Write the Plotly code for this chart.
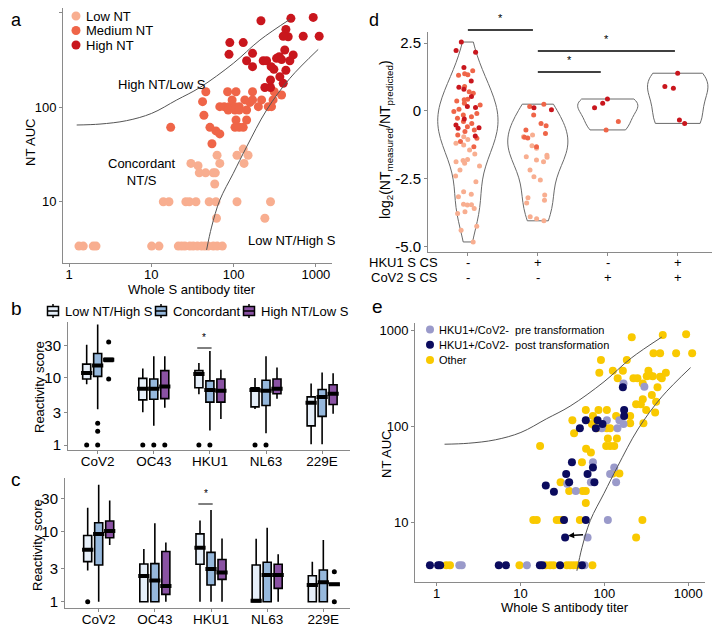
import numpy as np
import plotly.graph_objects as go

# The page body has an 8px default margin, so the figure is sized to fit the 720x628 window
OFF = 8
W, H = 720 - OFF, 628 - OFF
FONT = "Liberation Sans, Arial, sans-serif"
GREY = "#8a8a8a"


def fx(p):
    return (p - OFF) / W


def fy(p):
    return 1 - (p - OFF) / H


# ---------------- panel a : NT AUC vs whole S titer ----------------
a_low_x = [1.32, 1.49, 1.97, 2.13, 10.1, 12.4, 21.3, 23.4, 25.6, 29.4, 32.3, 36.3, 40.9, 44.9, 49.3, 56.7, 63.2, 73.0,
           62, 240, 14, 16.4, 26.3, 29, 34.9, 50.5, 61, 110, 281, 59, 38.3, 45.7, 56.5, 60, 37, 30.3, 68, 134,
           63, 110, 150, 131]
a_low_y = [3.4, 3.4, 3.4, 3.4, 3.4, 3.4, 3.4, 3.4, 3.4, 3.4, 3.4, 3.4, 3.4, 3.4, 3.4, 3.4, 3.4, 3.4,
           6.7, 6.7, 10, 10, 10, 10, 10, 10, 10, 10, 10, 15.4, 20.2, 20.2, 20.2, 20.2, 24, 25.4, 25.4, 25.4,
           31, 31, 31, 36]
a_med_x = [17.2, 42, 43.6, 46, 51.6, 54.6, 61, 68, 84.6, 107, 170, 312, 68, 77, 88.5, 96, 104, 117,
           86, 104, 117, 144, 137, 158, 200, 170, 219, 264, 302, 383, 289, 107, 104, 117, 131, 144]
a_med_y = [61, 114, 82, 145, 61, 41, 56, 52, 145, 145, 145, 145, 101, 101, 101, 119, 101, 101,
           93, 93, 93, 93, 119, 112, 101, 119, 119, 101, 119, 134, 101, 73, 61, 61, 61, 73]
a_high_x = [90, 88, 131, 170, 144, 170, 215, 229, 252, 240, 281, 281, 286, 309, 333, 359, 383, 365,
            401, 432, 461, 401, 497, 419, 432, 483, 530, 702, 929, 1097]
a_high_y = [479, 360, 479, 369, 308, 267, 816, 308, 308, 161, 161, 193, 267, 250, 327, 340, 317, 209,
            178, 661, 553, 560, 864, 400, 245, 308, 355, 560, 885, 560]
a_legend_labels = ["Low NT", "Medium NT", "High NT"]

# boundary curves
curve_hi_x = [1.24, 2.38, 5.0, 10.1, 20.3, 39, 99, 209, 483]
curve_hi_y = [64.6, 66.1, 71.8, 85.7, 118.6, 161, 289, 510, 843]
curve_lo_x = [47, 54, 68, 99, 144, 252, 483, 1067]
curve_lo_y = [3.1, 5.4, 10.4, 19.9, 38, 93, 201, 406]

# ---------------- panel e ----------------
e_other_x = [212, 497, 944, 385, 462, 717, 1114, 91, 185, 87, 166, 126, 144, 222, 248, 335, 350, 378, 320, 462,
             541, 484, 287, 430, 368, 287, 414, 239, 272, 315, 403, 60, 85, 107, 41.5, 73, 71, 81, 107, 117,
             138, 203, 203, 292, 43.5, 110, 141, 17.1, 60.5, 69, 105, 117, 131, 54,
             126, 151, 30, 38, 55, 60, 60, 14.2, 15.6, 27, 29.6, 32, 51, 284, 239,
             1.3, 1.44, 9.7, 20, 22.5, 24.7, 35.6, 39, 42.7, 46.9, 72]
e_other_y = [839, 887, 902, 571, 571, 571, 571, 487, 487, 359, 377, 377, 314, 314, 314, 377, 335, 330, 330, 326,
             359, 314, 278, 253, 210, 190, 179, 169, 169, 147, 138, 147, 147, 147, 115, 127, 105, 95, 95, 95,
             127, 127, 107, 107, 84, 74, 74, 62, 58, 53, 62, 62, 62, 42,
             32, 32, 26, 21, 21, 21, 15.8, 10.5, 10.5, 10.5, 10.5, 10.5, 10.5, 10.5, 6.9,
             3.54, 3.54, 3.54, 3.54, 3.54, 3.54, 3.54, 3.54, 3.54, 3.54, 3.54]
e_post_x = [166, 172, 172, 60, 83, 51, 79, 95, 41, 73, 35, 63, 38, 76, 20, 25, 33, 60, 34,
            0.83, 1.04, 1.1, 5.5, 6.7, 17, 18.2, 29.6, 54]
e_post_y = [253, 147, 127, 115, 115, 95, 95, 105, 42, 37, 31.6, 31.6, 26, 26, 24, 20.7, 10.5, 10.5, 6.9,
            3.54, 3.54, 3.54, 3.54, 3.54, 3.54, 3.54, 3.54, 3.54]
e_pre_x = [169, 300, 107, 151, 169, 93, 143, 73, 131, 117, 69, 36, 138, 45.6, 110, 63,
           1.86, 1.99, 11.9, 58]
e_pre_y = [278, 257, 115, 115, 105, 95, 95, 42, 37, 31.6, 26, 25, 26, 21, 10.5, 6.9,
           3.54, 3.54, 3.54, 3.54]
e_legend_labels = ["HKU1+/CoV2-  pre transformation", "HKU1+/CoV2-  post transformation", "Other"]
e_arrow_from = (58, 7.4)
e_arrow_to = (37, 7.2)

# ---------------- panel d : violins ----------------
d_groups = [1, 2, 3, 4]
d_hku1_signs = ["-", "+", "-", "+"]
d_cov2_signs = ["-", "-", "+", "+"]
d_g1_high = [2.54, 2.23, 2.16, 1.60, 1.10, 0.87, 0.80, 0.53, 0.16, 0.13, -0.30, -0.52, -0.62, -0.64, -0.92]
d_g1_med = [1.48, 1.37, 1.33, 1.32, 0.90, 0.71, 0.65, 0.43, 0.41, 0.37, 0.28, 0.22, 0.06, -0.02, -0.09,
            -0.15, -0.21, -0.27, -0.39, -0.46, -0.58, -0.70, -0.76, -0.89, -1.01, -1.13, -1.32]
d_g1_low = [-0.95, -1.05, -1.19, -1.26, -1.44, -1.59, -1.79, -1.83, -1.87, -1.93, -2.03, -2.18, -2.40,
            -2.61, -2.98, -3.07, -3.16, -3.44, -3.46, -3.47, -3.60, -3.72, -3.78, -4.25, -4.40, -4.83]
d_g2_high = [0.12, 0.04]
d_g2_med = [0.25, 0.16, -0.15, -0.46, -0.55, -0.70, -0.83, -0.97, -1.00, -1.32]
d_g2_low = [-0.89, -0.95, -1.28, -1.38, -1.63, -1.69, -1.71, -1.81, -1.87, -2.18, -2.43, -2.55, -3.10,
            -3.20, -3.29, -3.39, -3.90, -3.97, -4.05]
d_g3_high = [0.44, 0.28, 0.12]
d_g3_med = [-0.39, -0.70]
d_g4_high = [1.39, 0.90, 0.84, -0.33, -0.46]
d_yticks = [2.5, 0, -2.5, -5.0]
d_yticktext = ["2.5", "0", "-2.5", "-5.0"]

# ---------------- panels b, c : box plots ----------------
box_cats = ["CoV2", "OC43", "HKU1", "NL63", "229E"]
box_groups = ["Low NT/High S", "Concordant", "High NT/Low S"]

b_q1 = [[9.6, 4.7, 7.1, 3.7, 1.93], [10.5, 4.8, 4.35, 3.87, 2.67], [17.5, 4.9, 4.35, 5.8, 4.0]]
b_med = [[11.8, 6.9, 11.4, 6.6, 4.25], [15.2, 6.9, 6.6, 6.4, 5.2], [18.5, 7.4, 6.4, 6.9, 5.8]]
b_q3 = [[16, 9.8, 12.8, 7.1, 5.2], [23, 9.6, 9.0, 9.2, 6.7], [19.5, 12.8, 9.6, 9.6, 7.9]]
b_lo = [[8.0, 3.07, 5.7, 3.45, 1.03], [3.4, 1.93, 1.64, 1.5, 1.03], [17.5, 3.6, 2.44, 4.9, 2.93]]
b_hi = [[31, 13.8, 16.6, 9.9, 8.2], [62, 21, 25, 21, 12], [19.5, 21, 13.2, 14.3, 11.7]]
b_out = [[[1], [1], [1], [1], []], [[2.1, 1.6, 1], [1], [1], [1], []], [[34, 9.6], [1], [], [], []]]

c_q1 = [[3.73, 1, 3.42, 1, 1], [3.34, 1, 1.73, 1, 1], [8.2, 1.27, 2.08, 1.55, 1.72]]
c_med = [[5.5, 2.33, 5.9, 1.03, 1.73], [9.3, 2.0, 2.93, 2.4, 1.89], [10.2, 1.67, 2.62, 2.4, 1.77]]
c_q3 = [[8.8, 3.45, 9.3, 3.34, 2.35], [13.4, 3.5, 5.07, 3.65, 2.83], [14.2, 5.2, 4.0, 3.42, 1.82]]
c_lo = [[2.8, 1, 1, 1, 1], [1, 1, 1, 1, 1], [6.45, 1, 1, 1, 1.72]]
c_hi = [[22, 5.65, 14.4, 7.9, 3.73], [47, 13.2, 20.4, 11.4, 7.6], [28, 7.0, 8.0, 4.75, 1.82]]
c_out = [[[1], [], [], [], []], [[], [], [], [], []], [[], [], [], [], [2.68, 1]]]

# ---------------- styles ----------------
C_LOW, C_MED, C_HIGH = "#F8AE90", "#EF6548", "#C9161D"
C_PRE, C_POST, C_OTHER = "#9A9ACA", "#0B0B5E", "#F9C900"
BOX_FILL = ["#E6EFF9", "#96B8DC", "#8A52A3"]
BOX_OFF = [-0.196, 0.0, 0.196]
BOX_W = 0.143

fig = go.Figure()

# ---- panel a traces ----
a_sets = [(a_low_x, a_low_y, C_LOW), (a_med_x, a_med_y, C_MED), (a_high_x, a_high_y, C_HIGH)]
for (xs, ys, col), nm in zip(a_sets, a_legend_labels):
    fig.add_trace(go.Scatter(x=xs, y=ys, mode="markers", name=nm, marker=dict(size=9, color=col),
                             xaxis="x", yaxis="y", showlegend=False))
for cx, cy in [(curve_hi_x, curve_hi_y), (curve_lo_x, curve_lo_y)]:
    fig.add_trace(go.Scatter(x=cx, y=cy, mode="lines", line=dict(color="#555555", width=1, shape="spline"),
                             showlegend=False, xaxis="x", yaxis="y", hoverinfo="skip"))

# ---- panel e traces ----
e_sets = [(e_pre_x, e_pre_y, C_PRE), (e_post_x, e_post_y, C_POST), (e_other_x, e_other_y, C_OTHER)]
for idx in (2, 0, 1):
    xs, ys, col = e_sets[idx]
    fig.add_trace(go.Scatter(x=xs, y=ys, mode="markers", name=e_legend_labels[idx],
                             marker=dict(size=8, color=col), xaxis="x5", yaxis="y5", showlegend=False))
for cx, cy in [(curve_hi_x, curve_hi_y), (curve_lo_x, curve_lo_y)]:
    fig.add_trace(go.Scatter(x=cx, y=cy, mode="lines", line=dict(color="#555555", width=1, shape="spline"),
                             showlegend=False, xaxis="x5", yaxis="y5", hoverinfo="skip"))

# ---- panel d traces ----
d_sets = {
    "high": ([d_g1_high, d_g2_high, d_g3_high, d_g4_high], C_HIGH),
    "med": ([d_g1_med, d_g2_med, d_g3_med, []], C_MED),
    "low": ([d_g1_low, d_g2_low, [], []], C_LOW),
}
for g in range(4):
    vals = []
    for key in ("high", "med", "low"):
        vals += d_sets[key][0][g]
    fig.add_trace(go.Violin(x=[d_groups[g]] * len(vals), y=vals, xaxis="x2", yaxis="y2", points=False,
                            spanmode="hard", scalemode="width", scalegroup="g%d" % g, width=0.86,
                            line=dict(color="#6a6a6a", width=1), fillcolor="rgba(0,0,0,0)",
                            showlegend=False, hoverinfo="skip"))
for key in ("low", "med", "high"):
    lists, col = d_sets[key]
    px_, py_ = [], []
    for g in range(4):
        px_ += [d_groups[g]] * len(lists[g])
        py_ += lists[g]
    fig.add_trace(go.Violin(x=px_, y=py_, xaxis="x2", yaxis="y2", points="all", pointpos=0, jitter=0.55,
                            spanmode="hard", scalemode="width", width=0.8,
                            marker=dict(size=5, color=col), line=dict(width=0, color="rgba(0,0,0,0)"),
                            fillcolor="rgba(0,0,0,0)", showlegend=False))


# ---- panels b, c traces ----
def add_boxes(q1, med, q3, lo, hi, outs, xa, ya):
    for gi in range(3):
        xs = [i + BOX_OFF[gi] for i in range(len(box_cats))]
        fig.add_trace(go.Box(x=xs, q1=q1[gi], median=med[gi], q3=q3[gi], lowerfence=lo[gi], upperfence=hi[gi],
                             width=BOX_W, whiskerwidth=0, fillcolor=BOX_FILL[gi], name=box_groups[gi],
                             line=dict(color="black", width=1.6), boxpoints=False,
                             xaxis=xa, yaxis=ya, showlegend=False, hoverinfo="skip"))
        fig.add_trace(go.Scatter(x=xs, y=med[gi], mode="markers", xaxis=xa, yaxis=ya, showlegend=False,
                                 marker=dict(symbol="line-ew", size=8, color="black",
                                             line=dict(width=4, color="black")), hoverinfo="skip"))
        ox, oy = [], []
        for i in range(len(box_cats)):
            ox += [i + BOX_OFF[gi]] * len(outs[gi][i])
            oy += outs[gi][i]
        fig.add_trace(go.Scatter(x=ox, y=oy, mode="markers", xaxis=xa, yaxis=ya, showlegend=False,
                                 marker=dict(size=5, color="black")))


add_boxes(b_q1, b_med, b_q3, b_lo, b_hi, b_out, "x3", "y3")
add_boxes(c_q1, c_med, c_q3, c_lo, c_hi, c_out, "x4", "y4")

# ---------------- axes ----------------
base = dict(showline=True, linecolor=GREY, linewidth=1, ticks="outside", ticklen=3, tickcolor=GREY,
            showgrid=False, zeroline=False, tickfont=dict(size=13, color="black", family=FONT))
xbase = dict(base, ticklabelstandoff=-4)

layout_axes = dict(
    xaxis=dict(xbase, domain=[fx(63), fx(332)], type="log", range=[-0.073, 3.196],
               tickvals=[1, 10, 100, 1000], ticktext=["1", "10", "100", "1000"], anchor="y"),
    yaxis=dict(base, domain=[fy(263), fy(8)], type="log", range=[0.353, 3.046],
               tickvals=[10, 100, 1000], ticktext=["10", "100", "1000"], anchor="x"),
    xaxis2=dict(base, domain=[fx(428), fx(712)], range=[0.43, 4.49], tickvals=d_groups,
                showticklabels=False, anchor="y2"),
    yaxis2=dict(base, domain=[fy(252), fy(32)], range=[-5.2, 2.91], tickvals=d_yticks,
                ticktext=d_yticktext, tickfont=dict(size=15, color="black", family=FONT), anchor="x2"),
    xaxis3=dict(xbase, domain=[fx(68), fx(350)], range=[-0.529, 4.497], tickvals=list(range(5)),
                ticktext=box_cats, tickfont=dict(size=13.5, color="black", family=FONT), anchor="y3"),
    yaxis3=dict(base, domain=[fy(450), fy(321.7)], type="log", range=[-0.074, 1.835],
                tickvals=[1, 3, 10, 30], ticktext=["1", "3", "10", "30"],
                tickfont=dict(size=15, color="black", family=FONT), anchor="x3"),
    xaxis4=dict(xbase, domain=[fx(65), fx(350)], range=[-0.600, 4.475], tickvals=list(range(5)),
                ticktext=box_cats, tickfont=dict(size=13.5, color="black", family=FONT), anchor="y4"),
    yaxis4=dict(base, domain=[fy(607.7), fy(478)], type="log", range=[-0.086, 1.767],
                tickvals=[1, 3, 10, 30], ticktext=["1", "3", "10", "30"],
                tickfont=dict(size=15, color="black", family=FONT), anchor="x4"),
    xaxis5=dict(xbase, domain=[fx(415), fx(705)], type="log", range=[-0.259, 3.2],
                tickvals=[1, 10, 100, 1000], ticktext=["1", "10", "100", "1000"], anchor="y5"),
    yaxis5=dict(base, domain=[fy(582), fy(323)], type="log", range=[0.375, 3.073],
                tickvals=[10, 100, 1000], ticktext=["10", "100", "1000"], anchor="x5"),
)

# ---------------- annotations ----------------
ann = []
shapes = []


def txt(x, y, s, size=13, xanchor="center", yanchor="middle", angle=0, xref="paper", yref="paper"):
    ann.append(dict(x=x, y=y, text=s, showarrow=False, xref=xref, yref=yref, xanchor=xanchor,
                    yanchor=yanchor, textangle=angle, font=dict(size=size, color="#000000", family=FONT)))


# panel letters
txt(fx(8.5), fy(8), "a", 18, xanchor="left", yanchor="top")
txt(fx(8.5), fy(308), "b", 19, xanchor="left")
txt(fx(8.5), fy(480), "c", 19, xanchor="left")
txt(fx(374), fy(8), "d", 18, yanchor="top")
txt(fx(377), fy(306), "e", 19)

# panel a texts
txt(fx(192), fy(289.5), "Whole S antibody titer", 13)
txt(fx(30), fy(143), "NT AUC", 13, angle=-90)
txt(fx(162), fy(85), "High NT/Low S", 13)
txt(fx(142), fy(172), "Concordant<br>NT/S", 13)
txt(fx(292), fy(241), "Low NT/High S", 13)

# legend of panel a (drawn)
for i, (lab, (_, _, col)) in enumerate(zip(a_legend_labels, a_sets)):
    yy = 16 + 14.5 * i
    shapes.append(dict(type="circle", xref="paper", yref="paper", x0=fx(71.5), x1=fx(80.5),
                       y0=fy(yy + 4.5), y1=fy(yy - 4.5), fillcolor=col, line=dict(width=0)))
    txt(fx(84), fy(yy), lab, 13, xanchor="left")

# panel e texts
txt(fx(565), fy(607.5), "Whole S antibody titer", 13)
txt(fx(386), fy(455), "NT AUC", 13, angle=-90)
ann.append(dict(x=np.log10(e_arrow_to[0]), y=np.log10(e_arrow_to[1]), ax=np.log10(e_arrow_from[0]),
                ay=np.log10(e_arrow_from[1]), xref="x5", yref="y5", axref="x5", ayref="y5", text="",
                showarrow=True, arrowhead=2, arrowsize=0.8, arrowwidth=1.5, arrowcolor="black"))
for i, (lab, (_, _, col)) in enumerate(zip(e_legend_labels, e_sets)):
    yy = 329.5 + 15.2 * i
    shapes.append(dict(type="circle", xref="paper", yref="paper", x0=fx(426), x1=fx(434),
                       y0=fy(yy + 4), y1=fy(yy - 4), fillcolor=col, line=dict(width=0)))
    txt(fx(437), fy(yy), lab, 11, xanchor="left")

# panels b, c y titles
txt(fx(39), fy(387), "Reactivity score", 13, angle=-90)
txt(fx(37), fy(545), "Reactivity score", 13, angle=-90)

# panel d texts
txt(fx(386), fy(140), "log<sub>2</sub>(NT<sub>measured</sub>/NT<sub>predicted</sub>)", 14, angle=-90)
txt(fx(440), fy(262.5), "HKU1 S CS", 13, xanchor="right")
txt(fx(440), fy(277.5), "CoV2 S CS", 13, xanchor="right")
for g, s1, s2 in zip(d_groups, d_hku1_signs, d_cov2_signs):
    txt(g, fy(262.5), s1, 13, xref="x2")
    txt(g, fy(277.5), s2, 13, xref="x2")

# significance bars in d
for (x0, x1, yb) in [(1.0, 1.93, 30), (2.0, 3.96, 51), (2.0, 2.9, 72)]:
    shapes.append(dict(type="line", xref="x2", yref="paper", x0=x0, x1=x1, y0=fy(yb), y1=fy(yb),
                       line=dict(color="black", width=1.3)))
    txt((x0 + x1) / 2, fy(yb - 4), "*", 11, xref="x2", yanchor="bottom")

# significance bars in b, c (HKU1 low vs concordant)
for xa, yb in [("x3", 348), ("x4", 504)]:
    x0, x1 = 2 + BOX_OFF[0] - 0.03, 2 + BOX_OFF[1] + 0.03
    shapes.append(dict(type="line", xref=xa, yref="paper", x0=x0, x1=x1, y0=fy(yb), y1=fy(yb),
                       line=dict(color="black", width=1)))
    txt((x0 + x1) / 2, fy(yb - 3), "*", 10, xref=xa, yanchor="bottom")

# legend for panel b (drawn)
leg_icon_x = [53, 161, 249]
leg_text_x = [63, 171, 259]
leg_y = 311
for gi in range(3):
    cx = leg_icon_x[gi]
    shapes.append(dict(type="line", xref="paper", yref="paper", x0=fx(cx), x1=fx(cx), y0=fy(leg_y - 7),
                       y1=fy(leg_y + 7), line=dict(color="black", width=1.5)))
    shapes.append(dict(type="rect", xref="paper", yref="paper", x0=fx(cx - 5.5), x1=fx(cx + 5.5),
                       y0=fy(leg_y + 4.5), y1=fy(leg_y - 4.5), fillcolor=BOX_FILL[gi],
                       line=dict(color="black", width=1.5)))
    shapes.append(dict(type="line", xref="paper", yref="paper", x0=fx(cx - 5.5), x1=fx(cx + 5.5),
                       y0=fy(leg_y), y1=fy(leg_y), line=dict(color="black", width=1.5)))
    txt(fx(leg_text_x[gi]), fy(leg_y), box_groups[gi], 13, xanchor="left")

fig.update_layout(
    width=W, height=H, autosize=False, margin=dict(l=0, r=0, t=0, b=0, autoexpand=False),
    paper_bgcolor="white", plot_bgcolor="white",
    font=dict(family=FONT, color="black"),
    violinmode="overlay", violingap=0, boxmode="overlay", showlegend=False,
    annotations=ann, shapes=shapes,
    **layout_axes,
)

fig.write_html("out.html")
